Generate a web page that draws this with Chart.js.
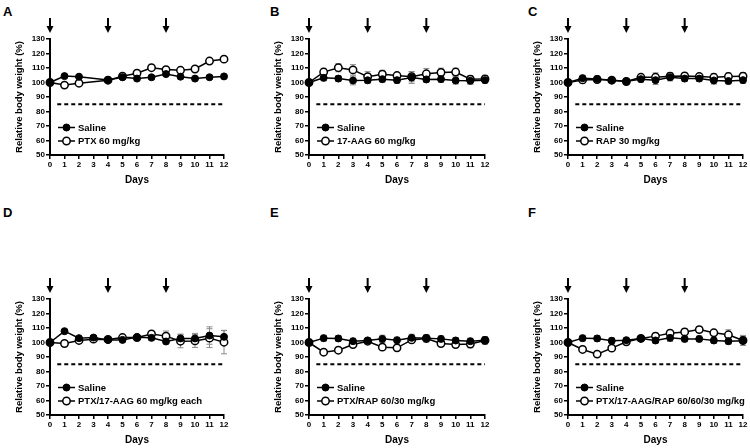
<!DOCTYPE html>
<html>
<head>
<meta charset="utf-8">
<script src="https://cdn.jsdelivr.net/npm/chart.js@4.4.0/dist/chart.umd.min.js"></script>
<style>
  body { margin: 0; background: #fff; }
  #wrap { position: relative; width: 750px; height: 448px; overflow: hidden; background: #fff; }
  canvas { position: absolute; }
  .letter { position: absolute; font: bold 13px "Liberation Sans", Arial, sans-serif; color: #000; line-height: 13px; }
</style>
</head>
<body>
<div id="wrap">
  <div class="letter" style="left:3px;top:5px">A</div>
  <div class="letter" style="left:270px;top:5px">B</div>
  <div class="letter" style="left:528px;top:5px">C</div>
  <div class="letter" style="left:3px;top:206px">D</div>
  <div class="letter" style="left:270px;top:206px">E</div>
  <div class="letter" style="left:528px;top:206px">F</div>
  <canvas id="cA" width="240" height="190" style="left:0px;top:0px"></canvas>
  <canvas id="cB" width="240" height="190" style="left:259px;top:0px"></canvas>
  <canvas id="cC" width="232" height="190" style="left:518px;top:0px"></canvas>
  <canvas id="cD" width="240" height="190" style="left:0px;top:260px"></canvas>
  <canvas id="cE" width="240" height="190" style="left:259px;top:260px"></canvas>
  <canvas id="cF" width="232" height="190" style="left:518px;top:260px"></canvas>
</div>
<script>
const days = [0, 1, 2, 3, 4, 5, 6, 7, 8, 9, 10, 11, 12];
const yTicks = [50, 60, 70, 80, 90, 100, 110, 120, 130];
const doseDays = [0, 4, 8];
const limitLine = 85;

// panel A (no day 3 measurement)
const salineA = [100, 104.4, 104, null, 101.8, 103.6, 102.7, 103.6, 105.8, 104, 102.7, 103.6, 104.2];
const salineErrA = [0, 0.8, 0.8, null, 0.8, 0.8, 0.8, 0.8, 0.8, 0.8, 0.8, 0.8, 0.8];
const ptxA = [100, 98.2, 99.5, null, 101.6, 104.3, 106.4, 110.2, 108.9, 108.4, 109.3, 114.8, 116.1];
const ptxErrA = [0, 0.8, 0.8, null, 1, 1, 1, 1, 1, 1, 1, 1, 1];

// panel B
const salineB = [100, 103.2, 102.7, 101.4, 101.5, 102.3, 101.6, 103.4, 102.1, 102.3, 101.4, 101.2, 101.6];
const salineErrB = [0, 2, 2, 3, 2, 2, 2, 4, 2, 2, 2.5, 2.5, 2];
const aagB = [100, 107.2, 110.2, 108.7, 104, 105.7, 104.8, 104, 106, 106.9, 107.2, 102.3, 102.5];
const aagErrB = [0, 2.5, 2.8, 3.6, 3.5, 2.7, 1.7, 3.5, 3.7, 3, 2.6, 2.4, 2.4];

// panel C
const salineC = [100, 103, 102.5, 101.6, 100.9, 102.3, 101.6, 103.6, 102.7, 102.7, 101.4, 101, 101.6];
const salineErrC = [0, 2, 2, 1.5, 1.5, 2, 3, 2.5, 2, 2, 2.5, 2, 2];
const rapC = [100, 101.8, 102, 101.6, 100.7, 103.6, 103.6, 104.3, 104.5, 104.1, 103.6, 104.1, 104.3];
const rapErrC = [0, 2, 2, 1.5, 1.5, 2, 3, 2.5, 2, 2, 2.5, 2.5, 2.5];

// panel D
const salineD = [100, 107.8, 103, 103.4, 101.8, 101.8, 103.7, 103.2, 100.7, 102.8, 102.8, 104.8, 103.9];
const salineErrD = [0, 1, 1, 1, 1, 1, 1.2, 1.5, 1.5, 3, 3.5, 6, 4.5];
const comboD = [100, 99.3, 101.4, 102.3, 102.1, 103.4, 103.4, 105.9, 104.4, 100.9, 101.1, 103, 100.2];
const comboErrD = [0, 1, 1, 1, 1, 1, 1.2, 1.5, 3.5, 4.5, 4.5, 6.5, 8];

// panel E
const salineE = [100, 103, 102.8, 100.9, 101.4, 102.5, 101.6, 103.2, 103, 102.5, 101.4, 100.9, 101.6];
const salineErrE = [0, 2, 2, 2, 1.5, 2.5, 2, 2.5, 2, 2, 2, 2, 2.5];
const ptxRapE = [100, 93.3, 94.7, 98.6, 100.9, 96.8, 96.3, 101.8, 102.8, 99.3, 98.6, 98.9, 101.4];
const ptxRapErrE = [0, 1.5, 1.5, 1.5, 1.5, 2, 2, 2, 2.5, 2, 2, 2.5, 2.5];

// panel F
const salineF = [100, 103, 102.8, 101.2, 101.6, 102.8, 101.4, 103.2, 102.5, 102.5, 101.4, 100.9, 101.2];
const salineErrF = [0, 2, 2, 2, 1.5, 2, 2, 2.5, 2, 2, 2, 2, 3];
const tripleF = [100, 95.2, 92, 96.1, 100.5, 102.8, 104.4, 106.4, 107.3, 108.9, 106.7, 105.3, 101.4];
const tripleErrF = [0, 1.5, 1.5, 1.5, 1.5, 1.5, 2, 2, 2, 2, 2, 3.5, 3.5];

const FONT = '"Liberation Sans", Arial, sans-serif';

const toPoints = (vals) => days.map((d, i) => ({ x: d, y: vals[i] })).filter(p => p.y !== null);

// error bars drawn under the markers
const errorBars = {
  id: 'errorBars',
  beforeDatasetsDraw(chart) {
    const { ctx, scales: { x, y } } = chart;
    ctx.save();
    ctx.strokeStyle = '#8a8a8a';
    ctx.lineWidth = 1;
    chart.data.datasets.forEach((ds) => {
      if (!ds.errors) return;
      ds.errors.forEach((e, i) => {
        const v = ds.values[i];
        if (v === null || !e) return;
        const px = x.getPixelForValue(days[i]);
        const top = y.getPixelForValue(v + e);
        const bot = y.getPixelForValue(v - e);
        ctx.beginPath();
        ctx.moveTo(px, top); ctx.lineTo(px, bot);
        ctx.moveTo(px - 3, top); ctx.lineTo(px + 3, top);
        ctx.moveTo(px - 3, bot); ctx.lineTo(px + 3, bot);
        ctx.stroke();
      });
    });
    ctx.restore();
  }
};

// dosing arrows and in-plot legend
const extras = {
  id: 'extras',
  afterDraw(chart) {
    const { ctx, chartArea, scales: { x } } = chart;
    ctx.save();
    ctx.fillStyle = '#000';
    ctx.strokeStyle = '#000';
    doseDays.forEach((d) => {
      const px = x.getPixelForValue(d);
      const tip = chartArea.top - 6;
      ctx.lineWidth = 2;
      ctx.beginPath();
      ctx.moveTo(px, chartArea.top - 21);
      ctx.lineTo(px, tip - 5);
      ctx.stroke();
      ctx.beginPath();
      ctx.moveTo(px - 3.5, tip - 7);
      ctx.lineTo(px + 3.5, tip - 7);
      ctx.lineTo(px, tip);
      ctx.closePath();
      ctx.fill();
    });

    const lx = chartArea.left + 8;
    const rows = [chartArea.bottom - 27.5, chartArea.bottom - 14];
    chart.data.datasets.slice(0, 2).forEach((ds, i) => {
      const yy = rows[i];
      ctx.lineWidth = 1.5;
      ctx.strokeStyle = '#000';
      ctx.beginPath();
      ctx.moveTo(lx, yy); ctx.lineTo(lx + 17, yy);
      ctx.stroke();
      ctx.beginPath();
      ctx.arc(lx + 8.5, yy, ds.pointRadius, 0, Math.PI * 2);
      ctx.fillStyle = ds.pointBackgroundColor;
      ctx.fill();
      ctx.lineWidth = ds.pointBorderWidth;
      ctx.stroke();
      ctx.fillStyle = '#000';
      ctx.font = 'bold 9.5px ' + FONT;
      ctx.textBaseline = 'middle';
      ctx.fillText(ds.label, lx + 20, yy + 0.5);
    });
    ctx.restore();
  }
};

function makePanel(id, saline, salineErr, drug, drugErr, drugLabel, plotWidth) {
  const canvas = document.getElementById(id);
  new Chart(canvas.getContext('2d'), {
    type: 'line',
    data: {
      datasets: [{
        label: 'Saline',
        data: toPoints(saline),
        values: saline,
        errors: salineErr,
        borderColor: '#000',
        borderWidth: 1.5,
        pointRadius: 3.5,
        pointBackgroundColor: '#000',
        pointBorderColor: '#000',
        pointBorderWidth: 1,
        clip: false,
      },
      {
        label: drugLabel,
        data: toPoints(drug),
        values: drug,
        errors: drugErr,
        borderColor: '#000',
        borderWidth: 1.5,
        pointRadius: 3.7,
        pointBackgroundColor: '#fff',
        pointBorderColor: '#000',
        pointBorderWidth: 1.5,
        clip: false,
      },
      {
        label: 'limit',
        data: [{ x: 0.5, y: limitLine }, { x: 12, y: limitLine }],
        borderColor: '#000',
        borderWidth: 2,
        borderDash: [4, 3],
        pointRadius: 0,
      }],
    },
    options: {
      animation: false,
      responsive: false,
      layout: {
        padding: { left: 0, top: 39, right: canvas.width - 50 - plotWidth, bottom: 0 },
      },
      plugins: {
        legend: { display: false },
        tooltip: { enabled: false },
      },
      scales: {
        x: {
          type: 'linear',
          min: 0,
          max: 12,
          afterFit: (scale) => { scale.height = 35; },
          afterBuildTicks: (scale) => { scale.ticks = days.map(v => ({ value: v })); },
          grid: { drawOnChartArea: false, drawTicks: true, tickLength: 4, color: '#000', lineWidth: 1.5 },
          border: { display: true, color: '#000', width: 2 },
          ticks: {
            autoSkip: false,
            maxRotation: 0,
            minRotation: 0,
            padding: 1,
            color: '#000',
            font: { family: FONT, size: 8, weight: 'bold' },
          },
          title: {
            display: true,
            text: 'Days',
            color: '#000',
            padding: { top: 0, bottom: 4 },
            font: { family: FONT, size: 10, weight: 'bold' },
          },
        },
        y: {
          min: yTicks[0],
          max: yTicks[yTicks.length - 1],
          afterFit: (scale) => { scale.width = 50; },
          afterBuildTicks: (scale) => { scale.ticks = yTicks.map(v => ({ value: v })); },
          grid: { drawOnChartArea: false, drawTicks: true, tickLength: 4, color: '#000', lineWidth: 1.5 },
          border: { display: true, color: '#000', width: 2 },
          ticks: {
            padding: 1,
            color: '#000',
            font: { family: FONT, size: 8, weight: 'bold' },
          },
          title: {
            display: true,
            text: 'Relative body weight (%)',
            color: '#000',
            padding: { top: 14, bottom: 0 },
            font: { family: FONT, size: 9.5, weight: 'bold' },
          },
        },
      },
    },
    plugins: [errorBars, extras],
  });
}

makePanel('cA', salineA, salineErrA, ptxA, ptxErrA, 'PTX 60 mg/kg', 174);
makePanel('cB', salineB, salineErrB, aagB, aagErrB, '17-AAG 60 mg/kg', 176);
makePanel('cC', salineC, salineErrC, rapC, rapErrC, 'RAP 30 mg/kg', 175);
makePanel('cD', salineD, salineErrD, comboD, comboErrD, 'PTX/17-AAG 60 mg/kg each', 174);
makePanel('cE', salineE, salineErrE, ptxRapE, ptxRapErrE, 'PTX/RAP 60/30 mg/kg', 176);
makePanel('cF', salineF, salineErrF, tripleF, tripleErrF, 'PTX/17-AAG/RAP 60/60/30 mg/kg', 175);
</script>
</body>
</html>
